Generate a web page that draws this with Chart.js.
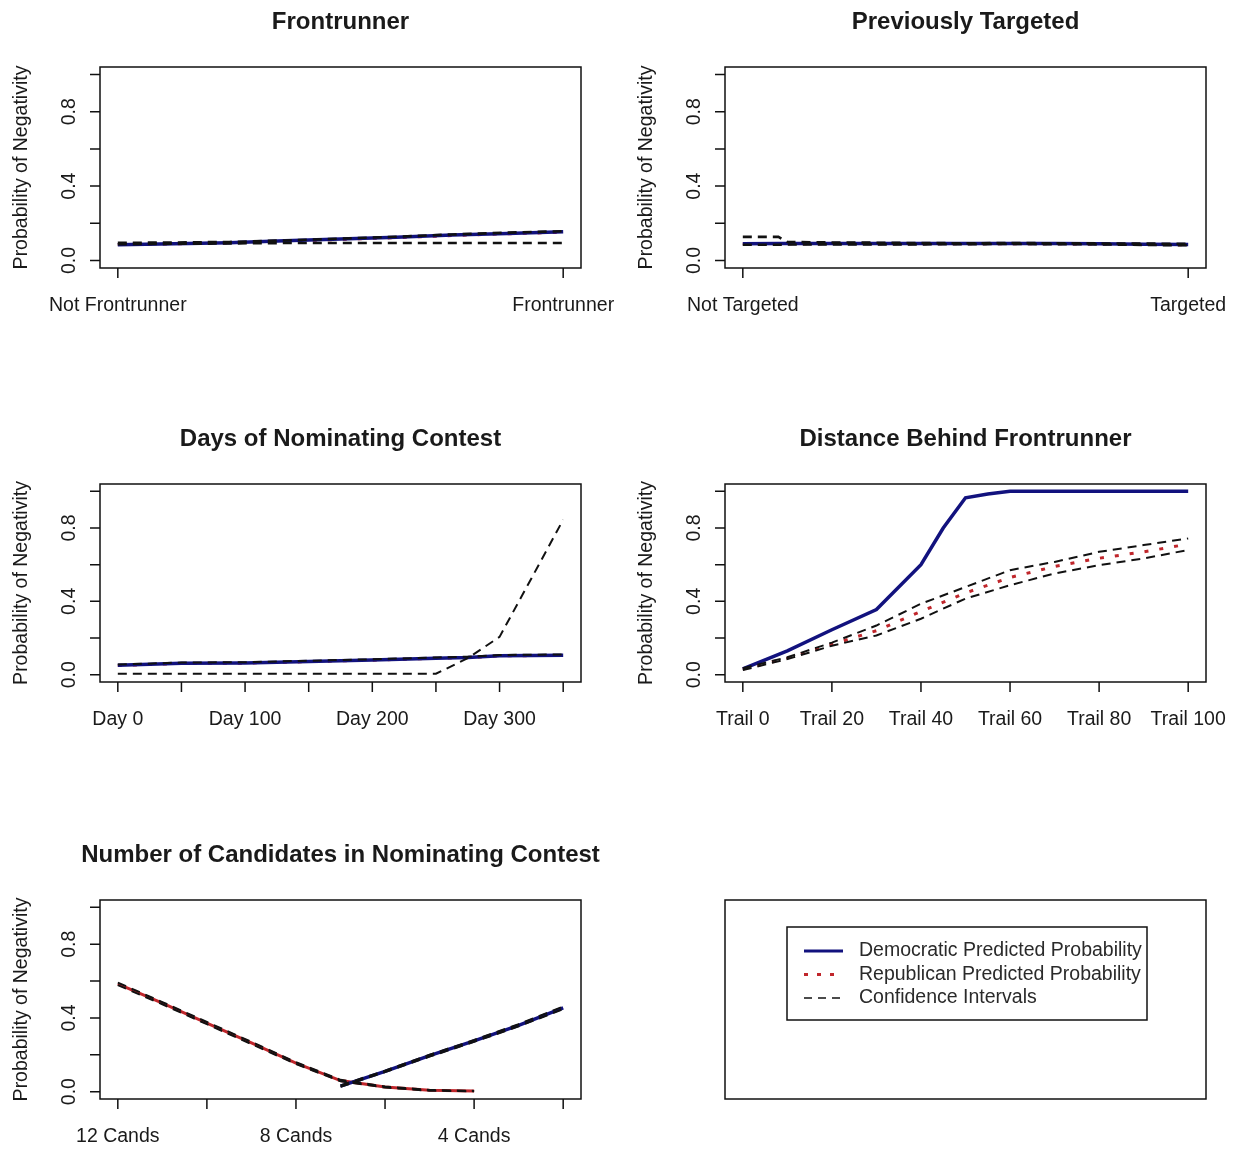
<!DOCTYPE html>
<html>
<head>
<meta charset="utf-8">
<title>Probability of Negativity</title>
<script src="https://cdn.jsdelivr.net/npm/chart.js@4.4.1/dist/chart.umd.min.js"></script>
<style>
  body { margin: 0; background: #fff; }
  #wrap { position: relative; width: 1238px; height: 1149px; background: #fff; }
  #wrap canvas { position: absolute; }
</style>
</head>
<body>
<div id="wrap">
  <canvas id="c1" width="619" height="383" style="left:0;top:0"></canvas>
  <canvas id="c2" width="619" height="383" style="left:619px;top:0"></canvas>
  <canvas id="c3" width="619" height="383" style="left:0;top:383px"></canvas>
  <canvas id="c4" width="619" height="383" style="left:619px;top:383px"></canvas>
  <canvas id="c5" width="619" height="383" style="left:0;top:766px"></canvas>
  <canvas id="c6" width="619" height="383" style="left:619px;top:766px"></canvas>
</div>
<script>
// y axis, same for every panel
const probTicks = [0, 0.2, 0.4, 0.6, 0.8, 1];
const probLabels = ['0.0', '', '0.4', '', '0.8', ''];

// Frontrunner
const frontX = [0, 0.125, 0.25, 0.375, 0.5, 0.625, 0.75, 0.875, 1];
const frontDem = [0.085, 0.09, 0.096, 0.106, 0.116, 0.125, 0.137, 0.146, 0.155];
const frontRep = [0.086, 0.09, 0.095, 0.104, 0.114, 0.123, 0.134, 0.144, 0.152];
const frontUpper = [0.095, 0.097, 0.1, 0.108, 0.118, 0.128, 0.14, 0.15, 0.158];
const frontLower = [0.088, 0.09, 0.092, 0.094, 0.094, 0.094, 0.094, 0.094, 0.094];
const frontTicks = [0, 1];
const frontLabels = ['Not Frontrunner', 'Frontrunner'];

// Previously Targeted
const targX = [0, 0.08, 0.1, 0.2, 0.3, 0.4, 0.5, 0.6, 0.7, 0.8, 0.9, 1];
const targDem = [0.09, 0.091, 0.091, 0.092, 0.092, 0.091, 0.091, 0.092, 0.091, 0.09, 0.088, 0.086];
const targRep = [0.09, 0.09, 0.09, 0.091, 0.091, 0.09, 0.09, 0.091, 0.09, 0.089, 0.087, 0.085];
const targUpper = [0.127, 0.127, 0.1, 0.097, 0.096, 0.094, 0.093, 0.094, 0.093, 0.092, 0.091, 0.09];
const targLower = [0.085, 0.085, 0.086, 0.087, 0.087, 0.087, 0.088, 0.089, 0.088, 0.087, 0.084, 0.082];
const targTicks = [0, 1];
const targLabels = ['Not Targeted', 'Targeted'];

// Days of Nominating Contest
const dayX = [0, 50, 100, 150, 200, 250, 275, 300, 325, 350];
const dayDem = [0.051, 0.062, 0.064, 0.072, 0.08, 0.09, 0.094, 0.103, 0.105, 0.106];
const dayRep = [0.05, 0.061, 0.063, 0.071, 0.079, 0.089, 0.093, 0.102, 0.104, 0.105];
const dayUpper = [0.055, 0.066, 0.068, 0.076, 0.084, 0.094, 0.098, 0.107, 0.109, 0.11];
const dayLower = [0.005, 0.005, 0.005, 0.005, 0.005, 0.005, 0.09, 0.206, 0.525, 0.845];
const dayTicks = [0, 50, 100, 150, 200, 250, 300, 350];
const dayLabels = ['Day 0', '', 'Day 100', '', 'Day 200', '', 'Day 300', ''];

// Distance Behind Frontrunner
const trailDemX = [0, 10, 20, 30, 40, 45, 50, 55, 60, 80, 100];
const trailDem = [0.031, 0.13, 0.245, 0.355, 0.6, 0.8, 0.965, 0.985, 1, 1, 1];
const trailX = [0, 10, 20, 30, 40, 50, 60, 70, 80, 90, 100];
const trailRep = [0.03, 0.09, 0.165, 0.24, 0.345, 0.446, 0.53, 0.59, 0.635, 0.67, 0.712];
const trailUpper = [0.035, 0.095, 0.175, 0.268, 0.387, 0.478, 0.57, 0.615, 0.67, 0.707, 0.743];
const trailLower = [0.025, 0.085, 0.158, 0.214, 0.305, 0.415, 0.488, 0.552, 0.597, 0.634, 0.68];
const trailTicks = [0, 20, 40, 60, 80, 100];
const trailLabels = ['Trail 0', 'Trail 20', 'Trail 40', 'Trail 60', 'Trail 80', 'Trail 100'];

// Number of Candidates in Nominating Contest
const candX = [12, 11, 10, 9, 8, 7, 6, 5, 4, 3, 2];
const candRep = [0.585, 0.48, 0.372, 0.264, 0.155, 0.06, 0.025, 0.007, 0.003, null, null];
const candRepUpper = [0.592, 0.486, 0.378, 0.27, 0.16, 0.064, 0.028, 0.009, 0.004, null, null];
const candRepLower = [0.578, 0.474, 0.366, 0.258, 0.15, 0.056, 0.022, 0.005, 0.002, null, null];
const candDem = [null, null, null, null, null, 0.03, 0.11, 0.195, 0.275, 0.36, 0.455];
const candDemUpper = [null, null, null, null, null, 0.034, 0.114, 0.2, 0.28, 0.366, 0.462];
const candDemLower = [null, null, null, null, null, 0.026, 0.106, 0.19, 0.27, 0.354, 0.448];
const candTicks = [12, 10, 8, 6, 4, 2];
const candLabels = ['12 Cands', '', '8 Cands', '', '4 Cands', ''];

const legendNames = ['Democratic Predicted Probability', 'Republican Predicted Probability', 'Confidence Intervals'];

const DEM = '#12127e';
const REP = '#c0262b';
const CI = '#111111';
const FONT = '"Liberation Sans", Arial, sans-serif';

function pts(xs, ys) {
  return xs.map((x, i) => ({ x: x, y: ys[i] }));
}

// base R style box, ticks and labels, drawn from the chart's own scales
const rAxes = {
  id: 'rAxes',
  afterDraw(chart, args, o) {
    const ctx = chart.ctx;
    const a = chart.chartArea;
    ctx.save();
    ctx.strokeStyle = '#111';
    ctx.lineWidth = 1.5;
    ctx.strokeRect(a.left, a.top, a.right - a.left, a.bottom - a.top);
    ctx.fillStyle = '#1a1a1a';
    if (o.title) {
      ctx.font = 'bold 24px ' + FONT;
      ctx.textAlign = 'center';
      ctx.textBaseline = 'middle';
      ctx.fillText(o.title, (a.left + a.right) / 2, a.top - 45);
    }
    if (o.xTicks) {
      const xs = chart.scales.x;
      const ys = chart.scales.y;
      ctx.font = '19.5px ' + FONT;
      ctx.textAlign = 'center';
      ctx.textBaseline = 'middle';
      ctx.beginPath();
      o.xTicks.forEach((v, i) => {
        const px = xs.getPixelForValue(v);
        ctx.moveTo(px, a.bottom);
        ctx.lineTo(px, a.bottom + 10);
        if (o.xLabels[i]) ctx.fillText(o.xLabels[i], px, a.bottom + 38);
      });
      probTicks.forEach(v => {
        const py = ys.getPixelForValue(v);
        ctx.moveTo(a.left, py);
        ctx.lineTo(a.left - 10, py);
      });
      ctx.stroke();
      probTicks.forEach((v, i) => {
        if (!probLabels[i]) return;
        const py = ys.getPixelForValue(v);
        ctx.save();
        ctx.translate(a.left - 30, py);
        ctx.rotate(-Math.PI / 2);
        ctx.fillText(probLabels[i], 0, 0);
        ctx.restore();
      });
      const mid = (ys.getPixelForValue(0) + ys.getPixelForValue(1)) / 2;
      ctx.save();
      ctx.translate(a.left - 78, mid);
      ctx.rotate(-Math.PI / 2);
      ctx.fillText('Probability of Negativity', 0, 0);
      ctx.restore();
    }
    if (o.legend) {
      const lx = a.left + 62, ly = a.top + 27;
      ctx.strokeRect(lx, ly, 360, 93);
      const styles = [
        { color: DEM, width: 3, dash: [] },
        { color: REP, width: 3, dash: [4, 9] },
        { color: CI, width: 1.5, dash: [8, 6] }
      ];
      ctx.font = '19.5px ' + FONT;
      ctx.textAlign = 'left';
      ctx.textBaseline = 'middle';
      legendNames.forEach((name, i) => {
        const y = ly + 24 + i * 23.5;
        const s = styles[i];
        ctx.save();
        ctx.strokeStyle = s.color;
        ctx.lineWidth = s.width;
        ctx.setLineDash(s.dash);
        ctx.beginPath();
        ctx.moveTo(lx + 17, y);
        ctx.lineTo(lx + 56, y);
        ctx.stroke();
        ctx.restore();
        ctx.fillStyle = '#2a2a2a';
        ctx.fillText(name, lx + 72, y);
      });
    }
    ctx.restore();
  }
};

function demSet(xs, ys) {
  return { data: pts(xs, ys), borderColor: DEM, borderWidth: 3.5, order: 1 };
}
function repSet(xs, ys, solid) {
  return { data: pts(xs, ys), borderColor: REP, borderWidth: 3, borderDash: solid ? [] : [4, 11], order: 2 };
}
function ciSet(xs, ys, w) {
  return { data: pts(xs, ys), borderColor: CI, borderWidth: w || 2, borderDash: [9, 6], order: 0 };
}

function makeChart(id, pad, xRange, datasets, axes, reverse) {
  return new Chart(document.getElementById(id), {
    type: 'line',
    data: { datasets: datasets },
    options: {
      responsive: false,
      animation: false,
      layout: { padding: pad },
      elements: { point: { radius: 0 }, line: { tension: 0, borderCapStyle: 'butt' } },
      scales: {
        x: { type: 'linear', display: false, min: xRange[0], max: xRange[1], reverse: !!reverse },
        y: { type: 'linear', display: false, min: -0.04, max: 1.04 }
      },
      plugins: { legend: { display: false }, tooltip: { enabled: false }, rAxes: axes }
    },
    plugins: [rAxes]
  });
}

const row1 = { left: 100, right: 38, top: 67, bottom: 115 };
const row1b = { left: 106, right: 32, top: 67, bottom: 115 };
const row2 = { left: 100, right: 38, top: 101, bottom: 84 };
const row2b = { left: 106, right: 32, top: 101, bottom: 84 };
const row3 = { left: 100, right: 38, top: 134, bottom: 50 };
const row3b = { left: 106, right: 32, top: 134, bottom: 50 };

makeChart('c1', row1, [-0.04, 1.04], [
  repSet(frontX, frontRep), demSet(frontX, frontDem),
  ciSet(frontX, frontUpper, 2.6), ciSet(frontX, frontLower, 2.6)
], { title: 'Frontrunner', xTicks: frontTicks, xLabels: frontLabels });

makeChart('c2', row1b, [-0.04, 1.04], [
  repSet(targX, targRep), demSet(targX, targDem),
  ciSet(targX, targUpper, 2.6), ciSet(targX, targLower, 2.6)
], { title: 'Previously Targeted', xTicks: targTicks, xLabels: targLabels });

makeChart('c3', row2, [-14, 364], [
  repSet(dayX, dayRep), demSet(dayX, dayDem),
  ciSet(dayX, dayUpper), ciSet(dayX, dayLower)
], { title: 'Days of Nominating Contest', xTicks: dayTicks, xLabels: dayLabels });

makeChart('c4', row2b, [-4, 104], [
  repSet(trailX, trailRep), demSet(trailDemX, trailDem),
  ciSet(trailX, trailUpper), ciSet(trailX, trailLower)
], { title: 'Distance Behind Frontrunner', xTicks: trailTicks, xLabels: trailLabels });

makeChart('c5', row3, [1.6, 12.4], [
  demSet(candX, candDem), repSet(candX, candRep, true),
  ciSet(candX, candRepUpper), ciSet(candX, candRepLower),
  ciSet(candX, candDemUpper), ciSet(candX, candDemLower)
], { title: 'Number of Candidates in Nominating Contest', xTicks: candTicks, xLabels: candLabels }, true);

makeChart('c6', row3b, [0, 1], [], { legend: true });
</script>
</body>
</html>
